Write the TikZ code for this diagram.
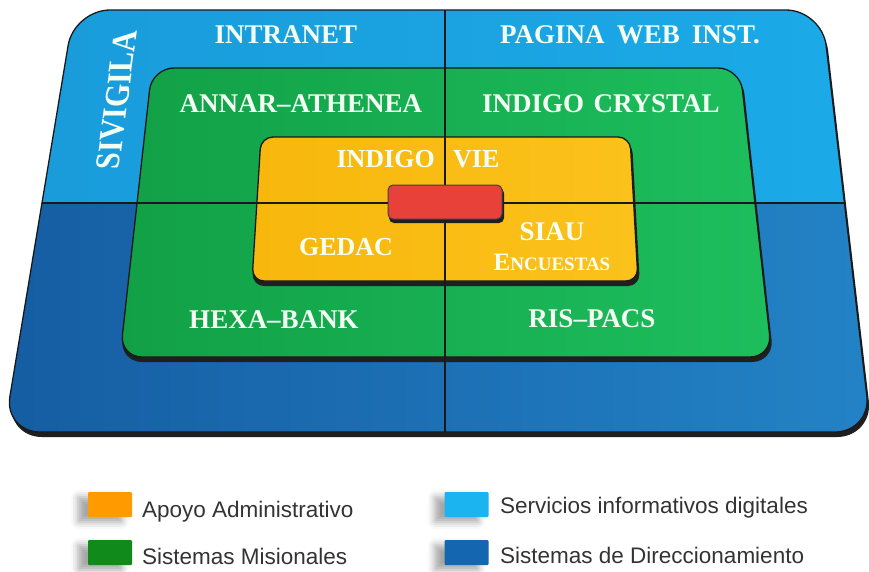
\documentclass[tikz,border=0pt]{standalone}
\usepackage{fontspec}
\setmainfont{Liberation Sans}
\newfontfamily\tf{Liberation Serif}
\usetikzlibrary{shadows.blur}
\definecolor{skyL}{HTML}{1A9BDA}
\definecolor{skyR}{HTML}{1BAAE8}
\definecolor{navyL}{HTML}{165DA3}
\definecolor{navyR}{HTML}{2383C6}
\definecolor{grnL}{HTML}{12A046}
\definecolor{grnR}{HTML}{1DBE5D}
\definecolor{yelL}{HTML}{F8B70C}
\definecolor{yelR}{HTML}{FBC21C}
\definecolor{redbar}{HTML}{E8413A}
\definecolor{txtc}{HTML}{F3FFF3}
\definecolor{legO}{HTML}{FF9A00}
\definecolor{legG}{HTML}{118A1C}
\definecolor{legL}{HTML}{1BB3F0}
\definecolor{legD}{HTML}{1466B0}
\definecolor{legtext}{HTML}{333333}
\tikzset{
  outline/.style={draw=black!90, line width=1.3pt},
  shadowfill/.style={fill=black!88},
  divline/.style={draw=black!90, line width=2pt},
  boxlabel/.style={text=txtc, font=\tf\bfseries\fontsize{27}{30}\selectfont, inner sep=0pt, anchor=base},
  legsq/.style={minimum width=44pt, minimum height=25pt, inner sep=0pt, rounded corners=1pt,
    blur shadow={shadow xshift=-10pt, shadow yshift=-5pt, shadow opacity=35, shadow blur radius=7pt}},
  legtxt/.style={text=legtext, font=\fontsize{22.5}{25}\selectfont, inner sep=0pt, anchor=base west},
}
\begin{document}
\begin{tikzpicture}[x=1pt,y=-1pt]
\useasboundingbox (0,0) rectangle (869,571);

% ---------- outer board ----------
\fill[shadowfill, rounded corners=36pt] (76,15) -- (824,15) -- (873,437) -- (6,437) -- cycle;
\begin{scope}
  \clip[rounded corners=36pt] (74,10) -- (822,10) -- (871,432) -- (4,432) -- cycle;
  \shade[left color=skyL, right color=skyR] (0,0) rectangle (880,203);
  \shade[left color=navyL, right color=navyR] (0,203) rectangle (880,440);
\end{scope}
\draw[outline, rounded corners=36pt] (74,10) -- (822,10) -- (871,432) -- (4,432) -- cycle;

% ---------- green box ----------
\fill[shadowfill, rounded corners=22pt] (152,72) -- (742,72) -- (774,362) -- (120,362) -- cycle;
\shade[left color=grnL, right color=grnR, rounded corners=22pt] (152,68) -- (740,68) -- (772,357) -- (120,357) -- cycle;
\draw[outline, rounded corners=22pt] (152,68) -- (740,68) -- (772,357) -- (120,357) -- cycle;

% ---------- yellow box ----------
\fill[shadowfill, rounded corners=12pt] (261,141) -- (632,141) -- (640,286) -- (252,286) -- cycle;
\shade[left color=yelL, right color=yelR, rounded corners=12pt] (261,137) -- (630,137) -- (638,281) -- (252,281) -- cycle;
\draw[outline, rounded corners=12pt] (261,137) -- (630,137) -- (638,281) -- (252,281) -- cycle;

% ---------- dividing lines ----------
\begin{scope}
  \clip[rounded corners=36pt] (74,10) -- (822,10) -- (871,432) -- (4,432) -- cycle;
  \coordinate (vtop) at (445,0);
  \coordinate (vbot) at (445,440);
  \coordinate (hleft) at (0,203);
  \coordinate (hright) at (880,203);
  \draw[divline] (vtop) -- (vbot);
  \draw[divline] (hleft) -- (hright);
\end{scope}

% ---------- red bar ----------
\fill[shadowfill, rounded corners=5pt] (389,188) rectangle (504,223);
\fill[redbar, rounded corners=5pt] (388,185) rectangle (502,219);
\draw[draw=black!75, line width=1pt, rounded corners=5pt] (388,185) rectangle (502,219);

% ---------- labels ----------
\node[boxlabel] (intranet) at (286,43) {INTRANET};
\node[boxlabel] (pagina) at (630,43) {PAGINA\hspace{0.45em}WEB\hspace{0.45em}INST.};
\node[boxlabel] (annar) at (301,112) {ANNAR–ATHENEA};
\node[boxlabel] (crystal) at (601,112) {INDIGO\hspace{0.35em}CRYSTAL};
\node[boxlabel, anchor=base east, font=\tf\bfseries\fontsize{26}{30}\selectfont] (indigo) at (435,167) {INDIGO};
\node[boxlabel, anchor=base west, font=\tf\bfseries\fontsize{26}{30}\selectfont] (vie) at (453,167) {VIE};
\node[boxlabel, font=\tf\bfseries\fontsize{26}{30}\selectfont] (gedac) at (346,255) {GEDAC};
\node[boxlabel] (siau) at (552,240) {SIAU};
\node[boxlabel] (encuestas) at (552,270) {{\fontsize{25}{28}\selectfont E}{\fontsize{19}{22}\selectfont NCUESTAS}};
\node[boxlabel] (hexa) at (274,328) {HEXA–BANK};
\node[boxlabel] (ris) at (592,327) {RIS–PACS};
\node[text=txtc, font=\tf\bfseries\fontsize{30}{32}\selectfont, inner sep=0pt, cm={0.135,1,-1.15,0,(0,0)}] (sivigila) at (117,100) {SIVIGILA};

% ---------- legend ----------
\node[legsq, fill=legO] (sqO) at (110,504.5) {};
\node[legsq, fill=legG] (sqG) at (110,552.5) {};
\node[legsq, fill=legL] (sqL) at (466.5,504.5) {};
\node[legsq, fill=legD] (sqD) at (466.5,552.5) {};
\node[legtxt] (tO) at (142,517) {Apoyo Administrativo};
\node[legtxt] (tG) at (142,564) {Sistemas Misionales};
\node[legtxt] (tL) at (500,513) {Servicios informativos digitales};
\node[legtxt] (tD) at (500,563) {Sistemas de Direccionamiento};
\end{tikzpicture}
\end{document}
